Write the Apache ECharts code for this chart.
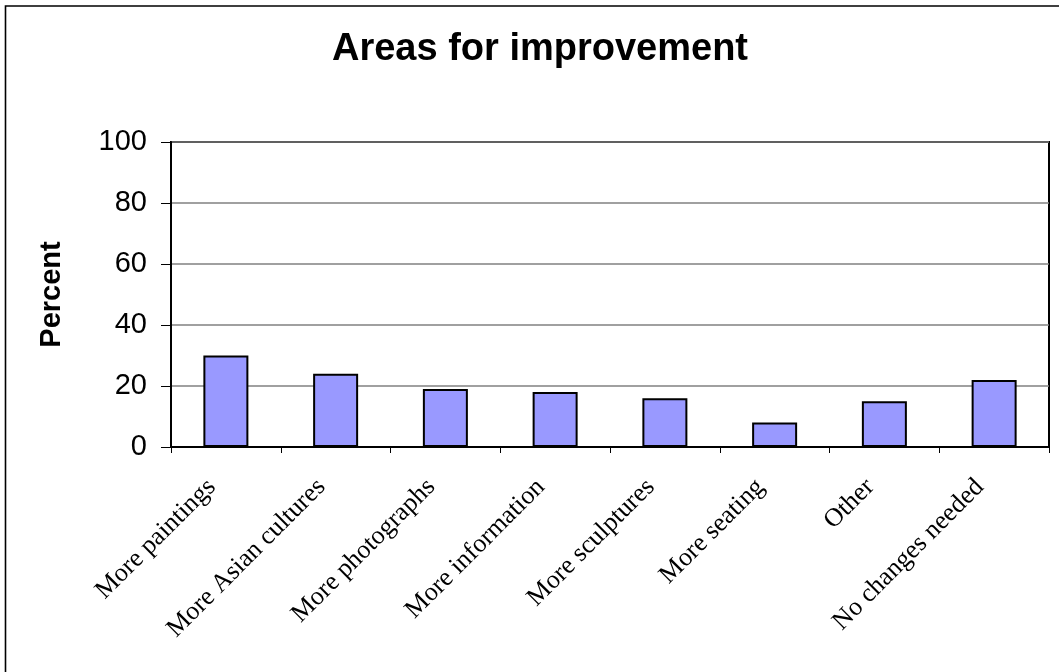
<!DOCTYPE html>
<html>
<head>
<meta charset="utf-8">
<script src="https://cdn.jsdelivr.net/npm/echarts@6/dist/echarts.min.js"></script>
<style>
  html, body { margin: 0; padding: 0; background: #fff; }
  #chart { width: 1059px; height: 672px; }
</style>
</head>
<body>
<div id="chart"></div>
<script>
// Survey responses: share of visitors suggesting each improvement
const categories = [
  'More paintings',
  'More Asian cultures',
  'More photographs',
  'More information',
  'More sculptures',
  'More seating',
  'Other',
  'No changes needed'
];
const percentValues = [30, 24, 19, 18, 16, 8, 15, 22];
const yTicks = [0, 20, 40, 60, 80, 100];

const chart = echarts.init(document.getElementById('chart'), null, { renderer: 'canvas' });

chart.setOption({
  animation: false,
  backgroundColor: '#ffffff',
  graphic: [
    {
      // outer frame of the chart area
      type: 'rect',
      shape: { x: 5.5, y: 6, width: 1200, height: 800 },
      style: { fill: 'none', stroke: '#000', lineWidth: 1.6 },
      silent: true,
      z: 0
    }
  ],
  title: {
    text: 'Areas for improvement',
    left: 535,
    top: 26,
    textAlign: 'center',
    textStyle: {
      fontFamily: 'Liberation Sans, Arial, sans-serif',
      fontWeight: 'bold',
      fontSize: 38,
      color: '#000'
    }
  },
  grid: {
    left: 171,
    top: 142,
    right: 10,
    bottom: 225,
    show: true,
    borderColor: '#000',
    borderWidth: 2,
    backgroundColor: 'transparent'
  },
  xAxis: {
    type: 'category',
    data: categories,
    axisLine: { lineStyle: { color: '#000', width: 2 } },
    axisTick: { show: true, length: 6, lineStyle: { color: '#000', width: 1 } },
    axisLabel: {
      interval: 0,
      rotate: 45,
      margin: 22,
      padding: [0, 20, 0, 0],
      fontFamily: 'Liberation Serif, Times New Roman, serif',
      fontSize: 26,
      color: '#000'
    }
  },
  yAxis: {
    type: 'value',
    min: 0,
    max: 100,
    interval: 20,
    name: 'Percent',
    nameLocation: 'middle',
    nameGap: 105,
    nameRotate: 90,
    nameTextStyle: {
      fontFamily: 'Liberation Sans, Arial, sans-serif',
      fontWeight: 'bold',
      fontSize: 29,
      color: '#000'
    },
    axisLine: { show: true, lineStyle: { color: '#000', width: 2 } },
    axisTick: { show: true, length: 10, lineStyle: { color: '#000', width: 1 } },
    axisLabel: {
      margin: 24,
      fontFamily: 'Liberation Sans, Arial, sans-serif',
      fontSize: 29,
      color: '#000',
      formatter: function (v) { return yTicks.indexOf(v) >= 0 ? String(v) : ''; }
    },
    splitLine: { show: true, lineStyle: { color: '#808080', width: 1.5 } }
  },
  series: [
    {
      type: 'bar',
      data: percentValues,
      barWidth: 45,
      itemStyle: {
        color: '#9999ff',
        borderColor: '#000',
        borderWidth: 2
      }
    }
  ]
});
</script>
</body>
</html>
